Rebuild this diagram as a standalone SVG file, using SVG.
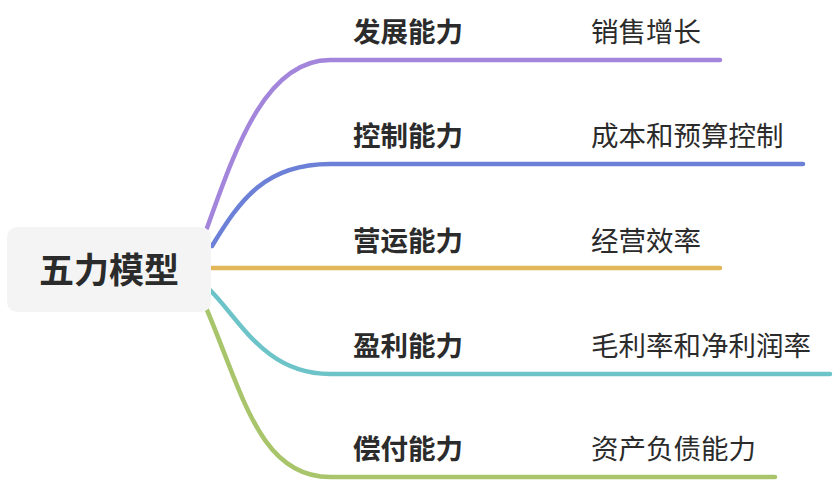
<svg xmlns="http://www.w3.org/2000/svg" width="836" height="482" viewBox="0 0 836 482">
<style>
.l1{font-family:"Noto Sans CJK SC","Noto Sans",sans-serif;font-size:27.5px;font-weight:bold;fill:#2b2b2b;dominant-baseline:central}
.l2{font-family:"Noto Sans CJK SC","Noto Sans",sans-serif;font-size:27.5px;fill:#2b2b2b;dominant-baseline:central}
.root{font-family:"Noto Sans CJK SC","Noto Sans",sans-serif;font-size:35px;font-weight:bold;fill:#2b2b2b;dominant-baseline:central;text-anchor:middle}
.c{fill:none;stroke-width:4.5;stroke-linecap:round}
</style>
<rect width="836" height="482" fill="#ffffff"/>
<g id="connectors">
<path class="c" stroke="#a386db" d="M207 228 C235 150 265 60 330 60 L720 60"/>
<path class="c" stroke="#6b80d6" d="M212 246 C240 200 265 164 330 164 L803 164"/>
<path class="c" stroke="#e2b75a" d="M211 268 L720 268"/>
<path class="c" stroke="#6cc3c8" d="M210 290 C240 320 265 374 330 374 L830 374"/>
<path class="c" stroke="#a9c56b" d="M207 310 C243 395 260 477 330 477 L775 477"/>
</g>
<g id="root">
<rect x="7" y="227" width="204" height="85" rx="10" fill="#f4f4f4"/>
<text class="root" x="109" y="267">五力模型</text>
</g>
<g id="n1"><text class="l1" x="353" y="30">发展能力</text></g>
<g id="n1a"><text class="l2" x="591" y="30">销售增长</text></g>
<g id="n2"><text class="l1" x="353" y="134">控制能力</text></g>
<g id="n2a"><text class="l2" x="591" y="134">成本和预算控制</text></g>
<g id="n3"><text class="l1" x="353" y="239">营运能力</text></g>
<g id="n3a"><text class="l2" x="591" y="239">经营效率</text></g>
<g id="n4"><text class="l1" x="353" y="344">盈利能力</text></g>
<g id="n4a"><text class="l2" x="591" y="344">毛利率和净利润率</text></g>
<g id="n5"><text class="l1" x="353" y="447">偿付能力</text></g>
<g id="n5a"><text class="l2" x="591" y="447">资产负债能力</text></g>
</svg>
